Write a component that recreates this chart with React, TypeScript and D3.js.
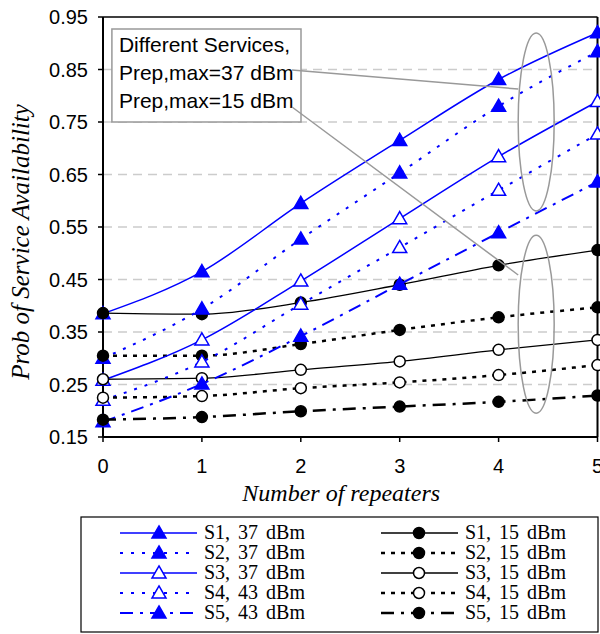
import React from "react";
import * as d3 from "d3";

const repeaters = [0, 1, 2, 3, 4, 5];
const yTicks = [0.15, 0.25, 0.35, 0.45, 0.55, 0.65, 0.75, 0.85, 0.95];
const gridValues = [0.25, 0.35, 0.45, 0.55, 0.65, 0.75, 0.85];

const s1High = [0.385, 0.465, 0.595, 0.715, 0.831, 0.92];
const s2High = [0.30, 0.394, 0.527, 0.653, 0.78, 0.884];
const s3High = [0.258, 0.335, 0.447, 0.566, 0.684, 0.789];
const s4High = [0.22, 0.293, 0.403, 0.511, 0.62, 0.727];
const s5High = [0.179, 0.251, 0.342, 0.441, 0.539, 0.636];

const s1Low = [0.386, 0.384, 0.406, 0.44, 0.477, 0.506];
const s2Low = [0.305, 0.305, 0.327, 0.354, 0.378, 0.397];
const s3Low = [0.26, 0.262, 0.278, 0.294, 0.316, 0.335];
const s4Low = [0.225, 0.228, 0.243, 0.254, 0.268, 0.287];
const s5Low = [0.183, 0.188, 0.199, 0.208, 0.217, 0.229];

const seriesLabels = [
  "S1, 37 dBm", "S2, 37 dBm", "S3, 37 dBm", "S4, 43 dBm", "S5, 43 dBm",
  "S1, 15 dBm", "S2, 15 dBm", "S3, 15 dBm", "S4, 15 dBm", "S5, 15 dBm",
];

const annotationLines = ["Different Services,", "Prep,max=37 dBm", "Prep,max=15 dBm"];

type Style = {
  color: string;
  dash: string | null;
  width: number;
  marker: "tri" | "circle";
  filled: boolean;
};

const BLUE = "#0000ff";
const DOT_BLUE = "3,8";
const DASHDOT_BLUE = "13,7,3,7";
const DOT_BLACK = "4,6";
const DASHDOT_BLACK = "13,7,3,7";

const highStyles: Style[] = [
  { color: BLUE, dash: null, width: 1.5, marker: "tri", filled: true },
  { color: BLUE, dash: DOT_BLUE, width: 2, marker: "tri", filled: true },
  { color: BLUE, dash: null, width: 1.5, marker: "tri", filled: false },
  { color: BLUE, dash: DOT_BLUE, width: 2, marker: "tri", filled: false },
  { color: BLUE, dash: DASHDOT_BLUE, width: 2, marker: "tri", filled: true },
];
const lowStyles: Style[] = [
  { color: "#000", dash: null, width: 1.3, marker: "circle", filled: true },
  { color: "#000", dash: DOT_BLACK, width: 2.5, marker: "circle", filled: true },
  { color: "#000", dash: null, width: 1.3, marker: "circle", filled: false },
  { color: "#000", dash: DOT_BLACK, width: 2.5, marker: "circle", filled: false },
  { color: "#000", dash: DASHDOT_BLACK, width: 2.5, marker: "circle", filled: true },
];

const highData = [s1High, s2High, s3High, s4High, s5High];
const lowData = [s1Low, s2Low, s3Low, s4Low, s5Low];

const left = 103;
const right = 597.5;
const top = 17;
const bottom = 437;

const x = d3.scaleLinear().domain([0, 5]).range([left, right]);
const y = d3.scaleLinear().domain([0.15, 0.95]).range([bottom, top]);

const line = d3
  .line<number>()
  .x((_, i) => x(repeaters[i]))
  .y((d) => y(d))
  .curve(d3.curveMonotoneX);

const triPath = d3.symbol(d3.symbolTriangle, 85)()!;

function Marker({ s, cx, cy }: { s: Style; cx: number; cy: number }) {
  const fill = s.filled ? s.color : "#fff";
  if (s.marker === "tri") {
    return (
      <path
        d={triPath}
        transform={`translate(${cx},${cy + 1})`}
        fill={fill}
        stroke={s.color}
        strokeWidth={1.5}
      />
    );
  }
  return <circle cx={cx} cy={cy} r={5.5} fill={fill} stroke={s.color} strokeWidth={1.5} />;
}

function Series({ data, s }: { data: number[]; s: Style }) {
  return (
    <g>
      <path
        d={line(data)!}
        fill="none"
        stroke={s.color}
        strokeWidth={s.width}
        strokeDasharray={s.dash ?? undefined}
      />
      {data.map((v, i) => (
        <Marker key={i} s={s} cx={x(repeaters[i])} cy={y(v)} />
      ))}
    </g>
  );
}

export default function App() {
  const order: { data: number[]; s: Style }[] = [];
  for (let i = 0; i < 5; i++) {
    order.push({ data: highData[i], s: highStyles[i] });
    order.push({ data: lowData[i], s: lowStyles[i] });
  }

  const ellX = x(4.38);
  const ellRx = 18;
  const ellRy = 89;
  const upperCy = y(0.75);
  const lowerCy = y(0.365);

  const boxX = x(0.09);
  const boxY = 29;
  const boxW = 301 - boxX;
  const boxH = 93;

  const legendRows = [533, 553, 573, 593, 613];
  const legendCols = [
    { x1: 120, x2: 197, mx: 159, tx: 204, styles: highStyles, labels: seriesLabels.slice(0, 5) },
    { x1: 381, x2: 458, mx: 419, tx: 465, styles: lowStyles, labels: seriesLabels.slice(5) },
  ];

  return (
    <svg
      width={600}
      height={634}
      style={{ position: "absolute", left: 0, top: 0, background: "#fff" }}
    >
      <rect x={0} y={0} width={600} height={634} fill="#fff" />
      {gridValues.map((g) => (
        <line
          key={g}
          x1={left}
          x2={right}
          y1={y(g)}
          y2={y(g)}
          stroke="#cccccc"
          strokeWidth={1.3}
          strokeDasharray="9,6"
        />
      ))}
      <line x1={left} x2={right} y1={top} y2={top} stroke="#000" strokeWidth={1.5} />
      <line x1={right} x2={right} y1={top} y2={bottom} stroke="#000" strokeWidth={2} />
      <line x1={left} x2={left} y1={top} y2={bottom} stroke="#000" strokeWidth={2} />
      <line x1={left} x2={right} y1={bottom} y2={bottom} stroke="#000" strokeWidth={2} />
      {yTicks.map((t) => (
        <g key={t}>
          <line x1={left - 5} x2={left} y1={y(t)} y2={y(t)} stroke="#000" strokeWidth={1.5} />
          <text
            x={left - 15}
            y={y(t) + 7}
            textAnchor="end"
            fontFamily="'Liberation Sans', Arial, sans-serif"
            fontSize={20}
          >
            {t.toFixed(2)}
          </text>
        </g>
      ))}
      {repeaters.map((r) => (
        <g key={r}>
          <line x1={x(r)} x2={x(r)} y1={bottom} y2={bottom + 5} stroke="#000" strokeWidth={1.5} />
          <text
            x={x(r)}
            y={bottom + 36}
            textAnchor="middle"
            fontFamily="'Liberation Sans', Arial, sans-serif"
            fontSize={20}
          >
            {r}
          </text>
        </g>
      ))}
      <text
        x={(left + right) / 2 - 9}
        y={501}
        textAnchor="middle"
        fontFamily="'Liberation Serif', 'Times New Roman', serif"
        fontStyle="italic"
        fontSize={24}
      >
        Number of repeaters
      </text>
      <text
        transform={`translate(29,${242}) rotate(-90)`}
        textAnchor="middle"
        fontFamily="'Liberation Serif', 'Times New Roman', serif"
        fontStyle="italic"
        fontSize={25}
      >
        Prob of Service Availability
      </text>

      {order.map((o, i) => (
        <Series key={i} data={o.data} s={o.s} />
      ))}

      <rect x={boxX} y={boxY} width={boxW} height={boxH} fill="#fff" stroke="#999" strokeWidth={1.5} />
      {annotationLines.map((t, i) => (
        <text
          key={i}
          x={boxX + 7}
          y={boxY + 23 + i * 28}
          fontFamily="'Liberation Sans', Arial, sans-serif"
          fontSize={21}
        >
          {t}
        </text>
      ))}
      <line x1={292} y1={70} x2={ellX - ellRx} y2={89} stroke="#999" strokeWidth={1.5} />
      <line x1={292} y1={107} x2={ellX - ellRx} y2={275} stroke="#999" strokeWidth={1.5} />
      <ellipse cx={ellX} cy={upperCy} rx={ellRx} ry={ellRy} fill="none" stroke="#999" strokeWidth={1.5} />
      <ellipse cx={ellX} cy={lowerCy} rx={ellRx} ry={ellRy} fill="none" stroke="#999" strokeWidth={1.5} />

      <rect x={81} y={517} width={517} height={115} fill="#fff" stroke="#000" strokeWidth={1.2} />
      {legendCols.map((col, ci) =>
        col.styles.map((s, ri) => (
          <g key={`${ci}-${ri}`}>
            <line
              x1={col.x1}
              x2={col.x2}
              y1={legendRows[ri]}
              y2={legendRows[ri]}
              stroke={s.color}
              strokeWidth={s.width}
              strokeDasharray={s.dash ?? undefined}
            />
            <Marker s={s} cx={col.mx} cy={legendRows[ri]} />
            <text
              x={col.tx}
              y={legendRows[ri] + 6}
              fontFamily="'Liberation Serif', 'Times New Roman', serif"
              fontSize={20}
              wordSpacing={3}
            >
              {col.labels[ri]}
            </text>
          </g>
        ))
      )}
    </svg>
  );
}
